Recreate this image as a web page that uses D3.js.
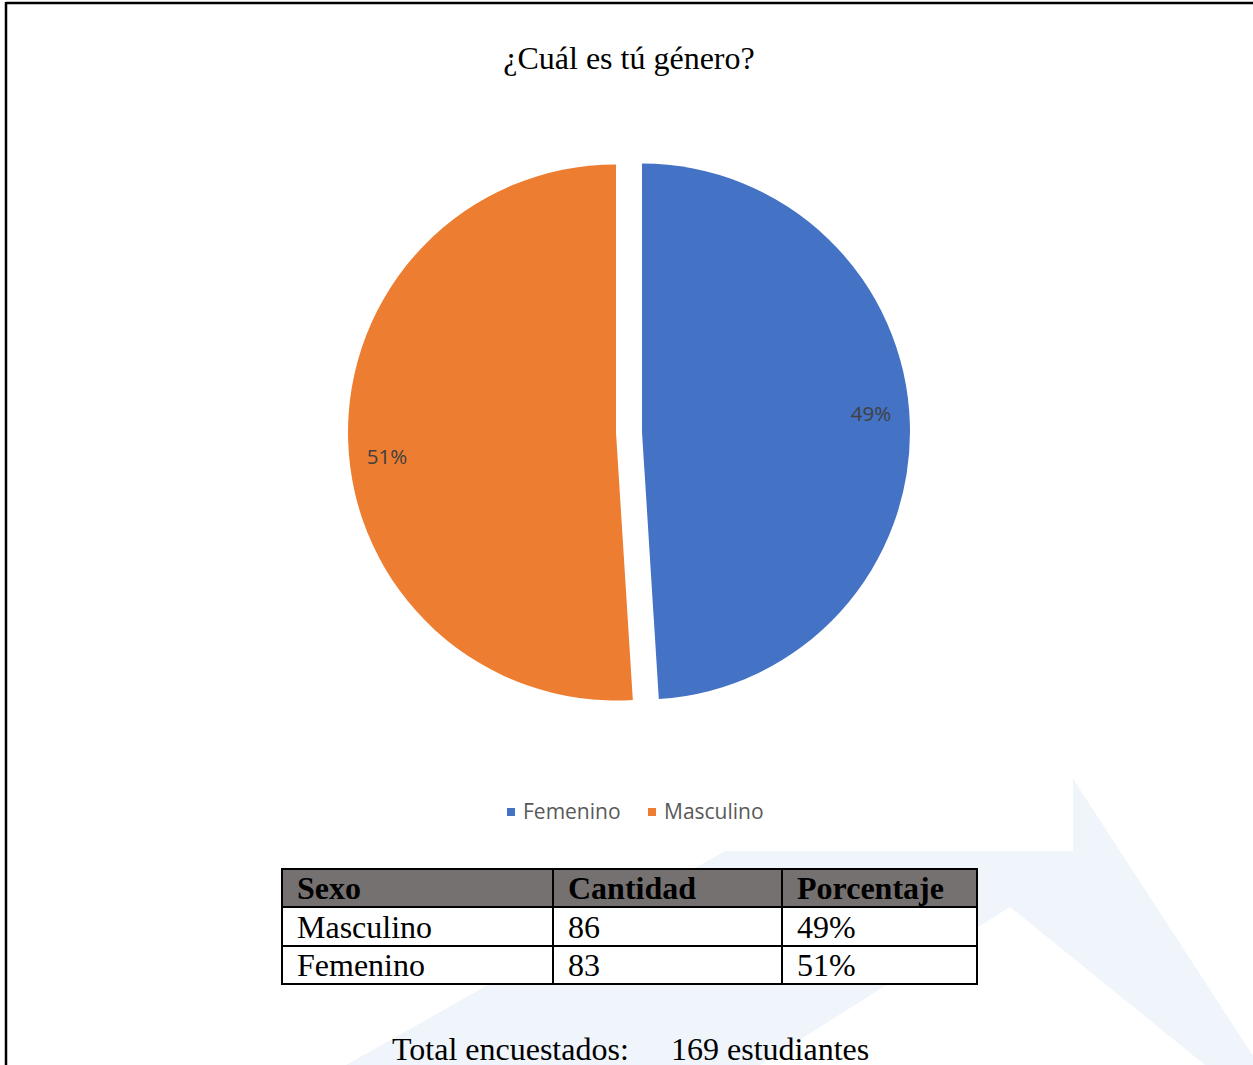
<!DOCTYPE html>
<html>
<head>
<meta charset="utf-8">
<script src="https://cdn.jsdelivr.net/npm/d3@7"></script>
<style>
html,body{margin:0;padding:0;background:#fff;}
svg{display:block;}
</style>
</head>
<body>
<svg id="chart" width="1253" height="1065"></svg>
<script>
// ---- data ----
const title = "¿Cuál es tú género?";
const categories = ["Femenino", "Masculino"];
const percentValues = [49, 51];
const colors = ["#4472C4", "#ED7D31"];
const tableHeaders = ["Sexo", "Cantidad", "Porcentaje"];
const tableSexo = ["Masculino", "Femenino"];
const tableCantidad = ["86", "83"];
const tablePorcentaje = ["49%", "51%"];
const totalLabel = "Total encuestados:";
const totalValue = "169 estudiantes";

const W = 1253, H = 1065;
const svg = d3.select("#chart");

// ---- faint watermark behind ----
const wm = svg.append("g");
wm.append("path")
  .attr("d", "M1014,688 L1259,1065 L346,1065 Z M1010,907 L1205,1065 L760,1065 Z")
  .attr("fill", "#f0f5fc").attr("fill-rule", "evenodd");

// chart area (white)
svg.append("rect").attr("x", 6).attr("y", 3).attr("width", 1067).attr("height", 848).attr("fill", "#fff");

// page border lines
svg.append("line").attr("x1", 6).attr("x2", W).attr("y1", 3).attr("y2", 3).attr("stroke", "#000").attr("stroke-width", 2.5);
svg.append("line").attr("x1", 6).attr("x2", 6).attr("y1", 2).attr("y2", H).attr("stroke", "#000").attr("stroke-width", 2.5);

// ---- title ----
svg.append("text").attr("x", 629).attr("y", 69).attr("text-anchor", "middle")
  .attr("font-family", "'Liberation Serif','Times New Roman',serif").attr("font-size", 32)
  .attr("fill", "#000").text(title);

// ---- pie ----
const cx = 629, cy = 432, R = 268, explode = 13;
const pie = d3.pie().sort(null).value(d => d)(percentValues);
const arc = d3.arc().innerRadius(0).outerRadius(R);
const g = svg.append("g").attr("transform", `translate(${cx},${cy})`);
const slices = g.selectAll("g.slice").data(pie).enter().append("g")
  .attr("transform", d => {
    const a = (d.startAngle + d.endAngle) / 2;
    return `translate(${explode * Math.sin(a)},${-explode * Math.cos(a)})`;
  });
slices.append("path").attr("d", arc).attr("fill", (d, i) => colors[i]);
slices.append("text")
  .attr("transform", d => {
    const a = (d.startAngle + d.endAngle) / 2 - 3.5 * Math.PI / 180;
    const r = 230;
    return `translate(${r * Math.sin(a)},${-r * Math.cos(a)})`;
  })
  .attr("text-anchor", "middle").attr("dy", "0.5em")
  .attr("font-family", "'Open Sans','Noto Sans',sans-serif").attr("font-size", 20.5)
  .attr("fill", "#404040")
  .text(d => d.data + "%");

// ---- legend ----
const legend = svg.append("g");
const legX = [507, 648];
categories.forEach((c, i) => {
  legend.append("rect").attr("x", legX[i]).attr("y", 808).attr("width", 8).attr("height", 8).attr("fill", colors[i]);
  legend.append("text").attr("x", legX[i] + 16).attr("y", 819)
    .attr("font-family", "'Open Sans','Noto Sans',sans-serif").attr("font-size", 21)
    .attr("fill", "#595959").text(c);
});

// ---- table ----
const colX = [282, 553, 782, 977];
const rowY = [869, 907, 946, 984];
const tbl = svg.append("g");
tbl.append("rect").attr("x", colX[0]).attr("y", rowY[0]).attr("width", colX[3] - colX[0]).attr("height", rowY[1] - rowY[0]).attr("fill", "#767171");
tbl.append("rect").attr("x", colX[0]).attr("y", rowY[1]).attr("width", colX[3] - colX[0]).attr("height", rowY[3] - rowY[1]).attr("fill", "#fff");
const rows = [tableHeaders, [tableSexo[0], tableCantidad[0], tablePorcentaje[0]], [tableSexo[1], tableCantidad[1], tablePorcentaje[1]]];
rows.forEach((row, r) => {
  row.forEach((cell, c) => {
    tbl.append("text").attr("x", colX[c] + 15).attr("y", rowY[r + 1] - 8)
      .attr("font-family", "'Liberation Serif','Times New Roman',serif")
      .attr("font-size", 32).attr("font-weight", r === 0 ? "bold" : "normal")
      .attr("fill", "#000").text(cell);
  });
});
rowY.forEach(y => tbl.append("line").attr("x1", colX[0] - 1).attr("x2", colX[3] + 1).attr("y1", y).attr("y2", y).attr("stroke", "#000").attr("stroke-width", 2));
colX.forEach(x => tbl.append("line").attr("x1", x).attr("x2", x).attr("y1", rowY[0]).attr("y2", rowY[3]).attr("stroke", "#000").attr("stroke-width", 2));

// ---- total ----
svg.append("text").attr("x", 392).attr("y", 1060)
  .attr("font-family", "'Liberation Serif','Times New Roman',serif").attr("font-size", 32)
  .attr("fill", "#000").text(totalLabel);
svg.append("text").attr("x", 671).attr("y", 1060)
  .attr("font-family", "'Liberation Serif','Times New Roman',serif").attr("font-size", 32)
  .attr("fill", "#000").text(totalValue);
</script>
</body>
</html>
